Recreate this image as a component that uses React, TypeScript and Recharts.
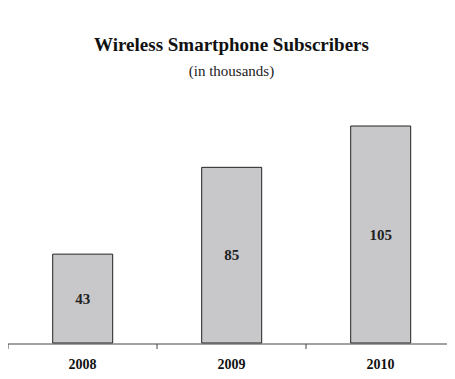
import { BarChart, Bar, XAxis, YAxis, LabelList } from 'recharts';

const years = ['2008', '2009', '2010'];
const subscribers = [43, 85, 105];
const edgeTicks = [0, 1, 2, 3];

const chartData = years.map((year, i) => ({ year, subscribers: subscribers[i], pos: i + 0.5 }));

const serif = '"Liberation Serif", "Times New Roman", serif';

export default function App() {
  return (
    <div style={{ position: 'relative', width: 447, height: 371, fontFamily: serif }}>
      <div style={{ position: 'absolute', top: 26, left: 0, width: 447, textAlign: 'center', fontWeight: 'bold', fontSize: 19, color: '#111' }}>
        Wireless Smartphone Subscribers
      </div>
      <div style={{ position: 'absolute', top: 55, left: 0, width: 447, textAlign: 'center', fontSize: 15, color: '#222' }}>
        (in thousands)
      </div>
      <BarChart
        width={447}
        height={371}
        data={chartData}
        margin={{ top: 87, right: 0, bottom: 29, left: 0 }}
        barCategoryGap="30%"
      >
        <XAxis
          xAxisId="edges"
          type="number"
          dataKey="pos"
          domain={[0, 3]}
          ticks={edgeTicks}
          tickFormatter={() => ''}
          axisLine={{ stroke: '#444' }}
          tickLine={{ stroke: '#444' }}
          tickSize={5}
          height={6}
          allowDataOverflow
        />
        <XAxis
          dataKey="year"
          axisLine={false}
          tickLine={false}
          height={1}
          tick={{ fontFamily: serif, fontWeight: 'bold', fontSize: 14, fill: '#111' }}
          tickSize={0}
          tickMargin={16}
        />
        <YAxis hide domain={[0, 120]} />
        <Bar dataKey="subscribers" fill="#c8c8ca" stroke="#222" strokeWidth={1} isAnimationActive={false}>
          <LabelList dataKey="subscribers" position="center" style={{ fontFamily: serif, fontWeight: 'bold', fontSize: 15, fill: '#222' }} />
        </Bar>
      </BarChart>
    </div>
  );
}
